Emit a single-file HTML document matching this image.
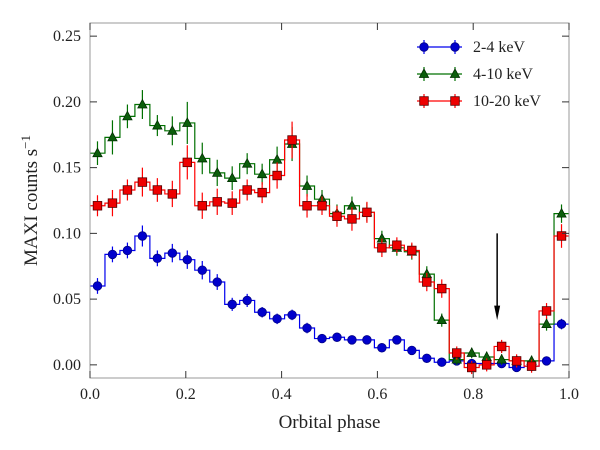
<!DOCTYPE html>
<html><head><meta charset="utf-8"><style>
body{margin:0;background:#fff;}
svg text{font-family:"Liberation Serif",serif;fill:#222;}
</style></head><body>
<svg id="chart" width="600" height="445" viewBox="0 0 600 445" xmlns="http://www.w3.org/2000/svg">
<g id="marks"></g>
<g id="axes"></g>
</svg>
<script>
const nBins = 32;
const blueVals = [0.060,0.084,0.087,0.098,0.081,0.085,0.080,0.072,0.063,0.046,0.049,0.040,0.035,0.038,0.028,0.020,0.021,0.019,0.019,0.013,0.019,0.011,0.005,0.002,0.003,0.001,0.001,0.001,-0.002,-0.001,0.003,0.031];
const greenVals = [0.161,0.173,0.189,0.198,0.182,0.178,0.184,0.157,0.146,0.142,0.153,0.145,0.156,0.168,0.136,0.126,0.115,0.121,0.116,0.096,0.089,0.086,0.069,0.034,0.004,0.009,0.006,0.004,0.003,0.003,0.031,0.115];
const redVals = [0.121,0.123,0.133,0.139,0.133,0.130,0.154,0.121,0.124,0.123,0.133,0.131,0.144,0.171,0.121,0.121,0.113,0.111,0.116,0.089,0.091,0.087,0.063,0.058,0.009,-0.002,0.000,0.014,0.003,-0.001,0.041,0.098];
const blueErr = [0.006,0.006,0.006,0.008,0.006,0.007,0.007,0.007,0.006,0.005,0.005,0.004,0.004,0.004,0.004,0.003,0.003,0.003,0.003,0.003,0.003,0.003,0.003,0.002,0.002,0.002,0.002,0.002,0.002,0.002,0.002,0.004];
const greenErr = [0.009,0.013,0.009,0.011,0.008,0.011,0.016,0.012,0.010,0.009,0.008,0.008,0.010,0.013,0.008,0.007,0.007,0.007,0.007,0.006,0.006,0.006,0.006,0.005,0.004,0.004,0.004,0.004,0.004,0.004,0.005,0.007];
const redErr = [0.008,0.010,0.008,0.011,0.009,0.010,0.013,0.010,0.010,0.009,0.008,0.008,0.010,0.014,0.009,0.007,0.008,0.009,0.008,0.007,0.006,0.006,0.007,0.007,0.005,0.005,0.005,0.005,0.005,0.005,0.006,0.009];
const xTicks = [0.0,0.2,0.4,0.6,0.8,1.0];
const xTickLabels = ["0.0","0.2","0.4","0.6","0.8","1.0"];
const yTicks = [0.00,0.05,0.10,0.15,0.20,0.25];
const yTickLabels = ["0.00","0.05","0.10","0.15","0.20","0.25"];
const seriesNames = ["2-4 keV","4-10 keV","10-20 keV"];
const arrowPhase = 0.85;

const NS="http://www.w3.org/2000/svg";
const L=90,R=569,T=23,B=378,ymin=-0.01,ymax=0.26;
const xs=v=>L+v*(R-L);
const ys=v=>B-(v-ymin)/(ymax-ymin)*(B-T);
function mk(tag,attrs,parent){const e=document.createElementNS(NS,tag);for(const k in attrs)e.setAttribute(k,attrs[k]);parent.appendChild(e);return e;}
const marks=document.getElementById('marks'),axes=document.getElementById('axes');

const series=[
 {vals:blueVals,err:blueErr,line:"#0000ee",fill:"#0000cc",edge:"#000088",shape:"circle",key:"blue"},
 {vals:greenVals,err:greenErr,line:"#007000",fill:"#0b5e0b",edge:"#003000",shape:"tri",key:"green"},
 {vals:redVals,err:redErr,line:"#ff0000",fill:"#ee0000",edge:"#550000",shape:"sq",key:"red"}
];
function marker(shape,x,y,s,g){
  let m;
  if(shape==="circle") m=mk('circle',{cx:x,cy:y,r:4.3,fill:s.fill,stroke:s.edge,'stroke-width':0.8},g);
  else if(shape==="tri") m=mk('polygon',{points:`${x},${y-5} ${x-4.6},${y+3.5} ${x+4.6},${y+3.5}`,fill:s.fill,stroke:s.edge,'stroke-width':0.8},g);
  else m=mk('rect',{x:x-4.3,y:y-4.3,width:8.6,height:8.6,fill:s.fill,stroke:s.edge,'stroke-width':0.8},g);
  return m;
}
series.forEach(s=>{
  const g=mk('g',{},marks);
  
  
  const w=1/nBins;
  let d="";
  s.vals.forEach((v,i)=>{const x0=xs(i*w),x1=xs((i+1)*w),y=ys(v);d+=(i===0?`M${x0},${y}`:`L${x0},${y}`)+`L${x1},${y}`;});
  const p=mk('path',{d:d,fill:'none',stroke:s.line,'stroke-width':1.2},g);
  
  
  s.vals.forEach((v,i)=>{
    const x=xs((i+0.5)*w);
    const eb=mk('line',{x1:x,x2:x,y1:ys(v-s.err[i]),y2:ys(v+s.err[i]),stroke:s.line,'stroke-width':1.2},g);
    
    
    const m=marker(s.shape,x,ys(v),s,g);
    
    
  });
});
// arrow
const ag=mk('g',{},marks);


const ax=xs(arrowPhase);
mk('line',{x1:ax,x2:ax,y1:ys(0.1),y2:ys(0.04),stroke:'#000','stroke-width':1.5},ag);
mk('polygon',{points:`${ax-3},${ys(0.045)} ${ax+3},${ys(0.045)} ${ax},${ys(0.034)}`,fill:'#000'},ag);

// frame
const fr=mk('rect',{x:L,y:T,width:R-L,height:B-T,fill:'none',stroke:'#999','stroke-width':1},axes);


xTicks.forEach((v,i)=>{
  const x=xs(v);
  mk('line',{x1:x,x2:x,y1:B,y2:B-7,stroke:'#333','stroke-width':1},axes);
  mk('line',{x1:x,x2:x,y1:T,y2:T+7,stroke:'#333','stroke-width':1},axes);
  const t=mk('text',{x:x,y:B+21,'text-anchor':'middle','font-size':16},axes);
  t.textContent=xTickLabels[i];
  
  
});
yTicks.forEach((v,i)=>{
  const y=ys(v);
  mk('line',{x1:L,x2:L+7,y1:y,y2:y,stroke:'#333','stroke-width':1},axes);
  mk('line',{x1:R,x2:R-7,y1:y,y2:y,stroke:'#333','stroke-width':1},axes);
  const t=mk('text',{x:L-9,y:y+5,'text-anchor':'end','font-size':16},axes);
  t.textContent=yTickLabels[i];
  
  
});
const xt=mk('text',{x:(L+R)/2,y:428,'text-anchor':'middle','font-size':19},axes);
xt.textContent="Orbital phase";


const yt=mk('text',{x:0,y:0,'text-anchor':'middle','font-size':19,transform:`translate(37,${(T+B)/2}) rotate(-90)`},axes);
yt.innerHTML='MAXI counts s<tspan dy="-7" font-size="13">−1</tspan>';


// legend
series.forEach((s,i)=>{
  const g=mk('g',{},axes);
  
  
  const y=47+i*27;
  mk('line',{x1:417,x2:462,y1:y,y2:y,stroke:s.line,'stroke-width':1.2},g);
  [424,455].forEach(x=>{mk('line',{x1:x,x2:x,y1:y-7,y2:y+7,stroke:s.line,'stroke-width':1.2},g);marker(s.shape,x,y,s,g);});
  const t=mk('text',{x:473,y:y+5,'font-size':16},g);
  t.textContent=seriesNames[i];
});
</script>
</body></html>
